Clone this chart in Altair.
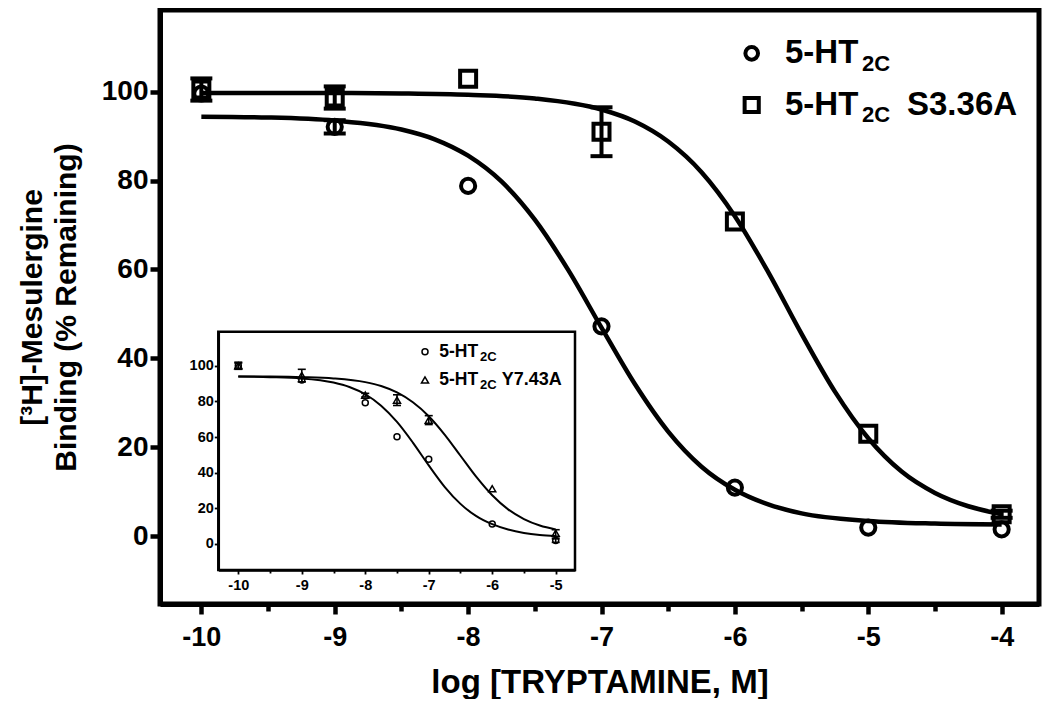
import altair as alt
import pandas as pd

# ---------------- data ----------------
# main panel: log [tryptamine] (M) vs [3H]-mesulergine binding (% remaining)
log_conc = [-10, -9, -8, -7, -6, -5, -4]
wt_binding = [99.6, 92.1, 78.8, 47.2, 10.9, 1.9, 1.5]
wt_sem = [0.0, 1.5, 0.0, 0.0, 0.0, 0.0, 0.0]
s336a_binding = [100.5, 98.7, 102.9, 91.0, 70.8, 23.0, 4.9]
s336a_sem = [2.5, 2.5, 0.0, 5.5, 0.0, 0.0, 0.8]

# fitted curves
wt_fit_x = [-10, -9.5, -9, -8.5, -8.25, -8, -7.75, -7.5, -7.25, -7, -6.75, -6.5,
            -6.25, -6, -5.75, -5.5, -5, -4.5, -4]
wt_fit_y = [94.4, 94.2, 93.5, 91.5, 89.3, 85.6, 79.8, 71.2, 59.9, 46.9, 34.2, 23.5,
            15.6, 10.4, 7.1, 5.1, 3.4, 2.8, 2.6]
s336a_fit_x = [-10, -9, -8.5, -8, -7.5, -7, -6.75, -6.5, -6.25, -6, -5.75, -5.5,
               -5.25, -5, -4.75, -4.5, -4.25, -4]
s336a_fit_y = [99.7, 99.7, 99.6, 99.3, 98.5, 96.0, 93.3, 88.8, 81.9, 72.0, 59.4, 45.5,
               32.5, 22.0, 14.5, 9.7, 6.7, 4.9]

# inset panel
inset_conc = [-10, -9, -8, -7.5, -7, -6, -5]
inset_wt_binding = [100.0, 92.0, 79.3, 60.2, 47.5, 11.2, 1.9]
inset_wt_sem = [1.5, 1.0, 0.0, 0.0, 0.0, 0.0, 1.0]
inset_y743a_binding = [100.0, 94.5, 83.5, 80.7, 69.5, 31.0, 6.0]
inset_y743a_sem = [2.0, 3.5, 1.0, 3.0, 2.5, 0.0, 2.0]

inset_wt_fit_x = [-10, -9.5, -9, -8.5, -8.25, -8, -7.75, -7.5, -7.25, -7, -6.75, -6.5,
                  -6.25, -6, -5.75, -5.5, -5.25, -5]
inset_wt_fit_y = [93.9, 93.6, 92.9, 90.6, 88.1, 84.0, 77.6, 68.5, 56.9, 44.1, 32.1, 22.5,
                  15.6, 11.1, 8.1, 6.2, 5.1, 4.5]
inset_y743a_fit_x = [-10, -9.5, -9, -8.5, -8, -7.75, -7.5, -7.25, -7, -6.75, -6.5, -6.25,
                     -6, -5.75, -5.5, -5.25, -5]
inset_y743a_fit_y = [94.0, 93.9, 93.6, 92.9, 90.8, 88.6, 85.0, 79.5, 71.7, 61.4, 49.5, 37.6,
                     27.3, 19.4, 14.0, 10.4, 8.2]

main_x_ticks = [-10, -9.5, -9, -8.5, -8, -7.5, -7, -6.5, -6, -5.5, -5, -4.5, -4]
main_y_ticks = [0, 20, 40, 60, 80, 100]
inset_x_ticks = [-10, -9.5, -9, -8.5, -8, -7.5, -7, -6.5, -6, -5.5, -5]
inset_y_ticks = [0, 20, 40, 60, 80, 100]

# ---------------- layout / style ----------------
FONT = "Liberation Sans"
W, H = 879, 594
MX_DOM = [-10.31, -3.72]
MY_DOM = [-15.3, 118.4]
IX_DOM = [-10.315, -4.696]
IY_DOM = [-14.6, 119.1]
IX_RANGE = [58.3, 415.0]
IY_RANGE = [560.0, 321.7]

MX = alt.Scale(domain=MX_DOM, nice=False, zero=False)
MY = alt.Scale(domain=MY_DOM, nice=False, zero=False)
IX = alt.Scale(domain=IX_DOM, range=IX_RANGE, nice=False, zero=False)
IY = alt.Scale(domain=IY_DOM, range=IY_RANGE, nice=False, zero=False)

INT_LABEL = "datum.value % 1 == 0 ? toString(datum.value) : ''"

MAIN_X_AXIS = alt.Axis(
    values=main_x_ticks, labelExpr=INT_LABEL, grid=False, orient="bottom",
    domainColor="black", domainWidth=5, tickColor="black", tickWidth=4.5,
    tickSize={"condition": {"test": "datum.value % 1 != 0", "value": 7}, "value": 10},
    labelFont=FONT, labelFontSize=27, labelFontWeight="bold", labelColor="black",
    labelPadding=10, labelOverlap=False, labelFlush=False,
    title="log [TRYPTAMINE, M]", titleFont=FONT, titleFontSize=33,
    titleFontWeight="bold", titleColor="black", titleX=W / 2, titleY=88,
    titleAlign="center", titleBaseline="alphabetic",
)
MAIN_Y_AXIS = alt.Axis(
    values=main_y_ticks, grid=False, orient="left",
    domainColor="black", domainWidth=5, tickColor="black", tickWidth=4.5, tickSize=10,
    labelFont=FONT, labelFontSize=28, labelFontWeight="bold", labelColor="black",
    labelPadding=2, labelOverlap=False, labelFlush=False,
    title=["[\u00b3H]-Mesulergine", "Binding (% Remaining)"], titleFont=FONT,
    titleFontSize=30, titleFontWeight="bold", titleColor="black", titleLineHeight=34,
    titleAngle=270, titleX=-113, titleY=H / 2, titleAlign="center", titleBaseline="bottom",
)
INSET_X_AXIS = alt.Axis(
    values=inset_x_ticks, labelExpr=INT_LABEL, grid=False, orient="bottom", offset=-34,
    domainColor="black", domainWidth=2.5, tickColor="black", tickWidth=1.8,
    tickSize={"condition": {"test": "datum.value % 1 != 0", "value": 3}, "value": 4},
    labelFont=FONT, labelFontSize=14.5, labelFontWeight="bold", labelColor="black",
    labelPadding=4, labelOverlap=False, labelFlush=False, title=None, zindex=2,
)
INSET_Y_AXIS = alt.Axis(
    values=inset_y_ticks, grid=False, orient="left", offset=-58.3,
    domainColor="black", domainWidth=2.5, tickColor="black", tickWidth=1.8, tickSize=4,
    labelFont=FONT, labelFontSize=14.5, labelFontWeight="bold", labelColor="black",
    labelPadding=1, labelOverlap=False, labelFlush=False, title=None, zindex=2,
)


def xenc(field, scale, axis):
    return alt.X(field, type="quantitative", scale=scale, axis=axis)


def yenc(field, scale, axis):
    return alt.Y(field, type="quantitative", scale=scale, axis=axis)


def curve(xs, ys, sx, sy, ax, ay, width):
    df = pd.DataFrame({"logc": xs, "fit": ys})
    return alt.Chart(df).mark_line(
        color="black", strokeWidth=width, interpolate="monotone"
    ).encode(x=xenc("logc", sx, ax), y=yenc("fit", sy, ay))


def points(xs, ys, shape, size, sw, sx, sy, ax, ay):
    df = pd.DataFrame({"logc": xs, "binding": ys})
    return alt.Chart(df).mark_point(
        shape=shape, size=size, strokeWidth=sw, color="black", filled=False, opacity=1
    ).encode(x=xenc("logc", sx, ax), y=yenc("binding", sy, ay))


def errorbars(xs, ys, es, sx, sy, ax, ay, sw, cap):
    rows = [(x, y - e, y + e) for x, y, e in zip(xs, ys, es) if e > 0]
    df = pd.DataFrame(rows, columns=["logc", "lo", "hi"])
    base = alt.Chart(df)
    rule = base.mark_rule(color="black", strokeWidth=sw, opacity=1).encode(
        x=xenc("logc", sx, ax), y=yenc("lo", sy, ay), y2="hi:Q")
    lo = base.mark_tick(color="black", orient="horizontal", size=cap, thickness=sw,
                        opacity=1).encode(x=xenc("logc", sx, ax), y=yenc("lo", sy, ay))
    hi = base.mark_tick(color="black", orient="horizontal", size=cap, thickness=sw,
                        opacity=1).encode(x=xenc("logc", sx, ax), y=yenc("hi", sy, ay))
    return rule + lo + hi


def label(text, px, py, size, bold=True):
    df = pd.DataFrame({"t": [text]})
    return alt.Chart(df).mark_text(
        align="left", baseline="alphabetic", font=FONT, fontSize=size,
        fontWeight="bold" if bold else "normal", color="black"
    ).encode(text="t:N", x=alt.value(px), y=alt.value(py))


def symbol(name, shape, size, sw, px, py):
    df = pd.DataFrame({"s": [name]})
    return alt.Chart(df).mark_point(
        shape=shape, size=size, strokeWidth=sw, color="black", filled=False, opacity=1
    ).encode(x=alt.value(px), y=alt.value(py))


# ---------------- main panel ----------------
main = alt.layer(
    curve(wt_fit_x, wt_fit_y, MX, MY, MAIN_X_AXIS, MAIN_Y_AXIS, 4.5),
    curve(s336a_fit_x, s336a_fit_y, MX, MY, MAIN_X_AXIS, MAIN_Y_AXIS, 4.5),
    errorbars(log_conc, wt_binding, wt_sem, MX, MY, MAIN_X_AXIS, MAIN_Y_AXIS, 4, 22),
    errorbars(log_conc, s336a_binding, s336a_sem, MX, MY, MAIN_X_AXIS, MAIN_Y_AXIS, 4, 22),
    points(log_conc, wt_binding, "circle", 201, 4, MX, MY, MAIN_X_AXIS, MAIN_Y_AXIS),
    points(log_conc, s336a_binding, "square", 256, 4, MX, MY, MAIN_X_AXIS, MAIN_Y_AXIS),
    # legend
    symbol("5-HT2C", "circle", 160, 4, 591.7, 43.3),
    symbol("5-HT2C S3.36A", "square", 200, 4, 591.7, 95.0),
    label("5-HT", 625, 53.3, 33),
    label("2C", 702, 60.5, 22),
    label("5-HT", 625, 105.0, 33),
    label("2C", 702, 112.2, 22),
    label("S3.36A", 747, 105.0, 33),
)

# ---------------- inset panel ----------------
frame_df = pd.DataFrame({"x0": [IX_DOM[0]], "x1": [IX_DOM[1]],
                         "y0": [IY_DOM[0]], "y1": [IY_DOM[1]]})
inset_frame = alt.Chart(frame_df).mark_rect(
    fill="white", stroke="black", strokeWidth=2.5
).encode(x=xenc("x0", IX, INSET_X_AXIS), x2="x1:Q",
         y=yenc("y0", IY, INSET_Y_AXIS), y2="y1:Q")

inset = alt.layer(
    inset_frame,
    curve(inset_wt_fit_x, inset_wt_fit_y, IX, IY, INSET_X_AXIS, INSET_Y_AXIS, 2),
    curve(inset_y743a_fit_x, inset_y743a_fit_y, IX, IY, INSET_X_AXIS, INSET_Y_AXIS, 2),
    errorbars(inset_conc, inset_wt_binding, inset_wt_sem, IX, IY, INSET_X_AXIS, INSET_Y_AXIS, 1.6, 8),
    errorbars(inset_conc, inset_y743a_binding, inset_y743a_sem, IX, IY, INSET_X_AXIS, INSET_Y_AXIS, 1.6, 8),
    points(inset_conc, inset_wt_binding, "circle", 36, 1.5, IX, IY, INSET_X_AXIS, INSET_Y_AXIS),
    points(inset_conc, inset_y743a_binding, "triangle-up", 50, 1.5, IX, IY, INSET_X_AXIS, INSET_Y_AXIS),
    # inset legend
    symbol("5-HT2C", "circle", 36, 1.5, 265, 341.7),
    symbol("5-HT2C Y7.43A", "triangle-up", 50, 1.5, 265, 370.0),
    label("5-HT", 279.3, 346.7, 17.5),
    label("2C", 320, 350.7, 13),
    label("5-HT", 279.3, 375.0, 17.5),
    label("2C", 320, 379.0, 13),
    label("Y7.43A", 341.7, 375.0, 18),
)

chart = alt.layer(main, inset).resolve_scale(
    x="independent", y="independent"
).properties(
    width=W, height=H,
    autosize=alt.AutoSizeParams(type="none"),
    padding={"left": 152, "top": 2, "right": 3, "bottom": 95},
    background="white",
).configure_view(stroke="black", strokeWidth=5)

chart.save("out.html", embed_options={"renderer": "svg", "actions": False})
